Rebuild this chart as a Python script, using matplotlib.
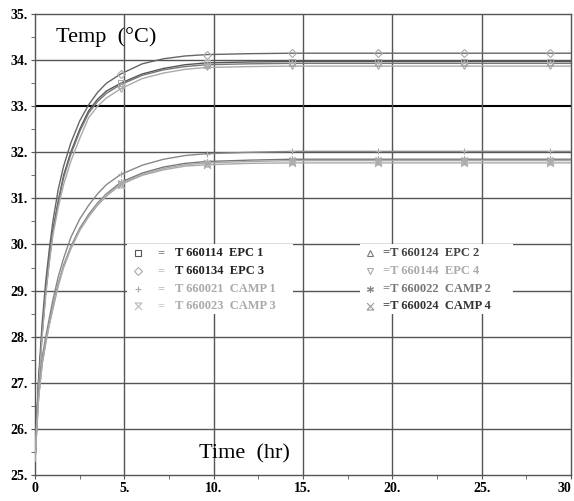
import numpy as np
import matplotlib
matplotlib.use('Agg')
import matplotlib.pyplot as plt
from matplotlib.path import Path

plt.rcParams['font.family'] = 'Liberation Serif'

# time axis (hr) of read-off points
t = [0, 0.1, 0.2, 0.4, 0.6, 0.8, 1.0, 1.3, 1.6, 2.0, 2.5, 3.0, 3.5, 4.0, 4.8,
     6.0, 7.2, 8.4, 9.6, 12.0, 14.4, 19.2, 24.0, 28.8, 30.0]

epc1 = [25.3, 26.2, 27.0, 28.1, 29.0, 29.7, 30.3, 30.95, 31.5, 32.0, 32.5, 32.9,
        33.15, 33.33, 33.5, 33.7, 33.82, 33.9, 33.94, 33.96, 33.97, 33.97, 33.97, 33.97, 33.97]
epc2 = [25.3, 26.2, 27.0, 28.05, 28.95, 29.65, 30.25, 30.9, 31.45, 31.95, 32.45, 32.85,
        33.1, 33.28, 33.47, 33.67, 33.79, 33.86, 33.9, 33.92, 33.93, 33.93, 33.93, 33.93, 33.93]
epc3 = [25.3, 26.3, 27.1, 28.3, 29.2, 29.9, 30.5, 31.2, 31.7, 32.2, 32.68, 33.03,
        33.3, 33.5, 33.7, 33.92, 34.03, 34.09, 34.12, 34.14, 34.15, 34.15, 34.15, 34.15, 34.15]
epc4 = [25.3, 26.15, 26.9, 28.0, 28.9, 29.6, 30.2, 30.8, 31.3, 31.8, 32.3, 32.75,
        33.0, 33.18, 33.38, 33.6, 33.72, 33.8, 33.84, 33.86, 33.87, 33.87, 33.87, 33.87, 33.87]
camp1 = [25.3, 26.1, 26.8, 27.55, 28.0, 28.4, 28.8, 29.3, 29.7, 30.15, 30.55, 30.85,
         31.1, 31.3, 31.52, 31.72, 31.85, 31.93, 31.97, 32.0, 32.02, 32.02, 32.02, 32.02, 32.02]
camp2 = [25.3, 26.05, 26.7, 27.45, 27.9, 28.3, 28.65, 29.15, 29.55, 29.95, 30.35, 30.65,
         30.9, 31.1, 31.35, 31.55, 31.68, 31.76, 31.8, 31.83, 31.85, 31.85, 31.85, 31.85, 31.85]
camp3 = [25.3, 26.0, 26.65, 27.4, 27.85, 28.25, 28.6, 29.1, 29.5, 29.9, 30.3, 30.6,
         30.85, 31.05, 31.3, 31.5, 31.62, 31.7, 31.73, 31.76, 31.77, 31.77, 31.77, 31.77, 31.77]
camp4 = [25.3, 26.02, 26.68, 27.42, 27.88, 28.28, 28.62, 29.12, 29.52, 29.92, 30.32, 30.62,
         30.88, 31.08, 31.32, 31.52, 31.65, 31.73, 31.77, 31.8, 31.82, 31.82, 31.82, 31.82, 31.82]

# marker times
t_mark = [4.8, 9.6, 14.4, 19.2, 24.0, 28.8]

labels = ['T 660114  EPC 1', 'T 660124  EPC 2', 'T 660134  EPC 3', 'T 660144  EPC 4',
          'T 660021  CAMP 1', 'T 660022  CAMP 2', 'T 660023  CAMP 3', 'T 660024  CAMP 4']

# custom markers: X with bar on top / bottom
x_top = Path([(-1, 1), (1, -1), (1, 1), (-1, -1), (-1, 1), (1, 1)],
             [Path.MOVETO, Path.LINETO, Path.MOVETO, Path.LINETO, Path.MOVETO, Path.LINETO])
x_bot = Path([(-1, 1), (1, -1), (1, 1), (-1, -1), (-1, -1), (1, -1)],
             [Path.MOVETO, Path.LINETO, Path.MOVETO, Path.LINETO, Path.MOVETO, Path.LINETO])

# (values, marker, line colour, text colour, legend symbol colour)
series = [
    (epc1, 's', '#555555', '#222222', '#555555'),
    (epc2, '^', '#777777', '#444444', '#777777'),
    (epc3, 'D', '#666666', '#222222', '#aaaaaa'),
    (epc4, 'v', '#aaaaaa', '#aaaaaa', '#aaaaaa'),
    (camp1, '+', '#888888', '#aaaaaa', '#aaaaaa'),
    (camp2, (6, 2, 0), '#777777', '#777777', '#888888'),
    (camp3, x_top, '#aaaaaa', '#aaaaaa', '#bbbbbb'),
    (camp4, x_bot, '#aaaaaa', '#333333', '#999999'),
]

fig = plt.figure(figsize=(5.74, 5.01), dpi=100)
ax = fig.add_axes([0.061, 0.052, 0.934, 0.920])

ax.set_xlim(0, 30)
ax.set_ylim(25, 35)

for y in range(26, 35):
    ax.axhline(y, color='black' if y == 33 else '#555555',
               lw=1.5 if y == 33 else 1.0, zorder=1)
for x in [5, 10, 15, 20, 25]:
    ax.axvline(x, color='#555555', lw=1.0, zorder=1)

for vals, mk, lc, tc, sc in series:
    ax.plot(t, vals, color=lc, lw=1.0, zorder=3)
    mv = np.interp(t_mark, t, vals)
    ms = 4 if mk == 'D' else 5
    ax.plot(t_mark, mv, ls='none', marker=mk, ms=ms, mfc='none',
            mec='#aaaaaa', mew=0.8, zorder=4)

# legend boxes (white, no border)
for x0, x1 in [(0.172, 0.481), (0.606, 0.892)]:
    ax.add_patch(plt.Rectangle((x0, 0.349), x1 - x0, 0.152, transform=ax.transAxes,
                               facecolor='white', edgecolor='none', zorder=5))

rows = [0.482, 0.443, 0.403, 0.367]
cols = [(0.192, 0.228, 0.261), (0.625, None, 0.649)]
for i, (vals, mk, lc, tc, sc) in enumerate(series):
    c = i % 2
    r = i // 2
    sx, ex, tx = cols[c]
    ms = 4 if mk == 'D' else 5
    ax.plot([sx], [rows[r]], transform=ax.transAxes, marker=mk, ms=ms, mfc='none',
            mec=sc, mew=0.8, ls='none', zorder=6, clip_on=False)
    if ex is not None:
        ax.text(ex, rows[r], '=', transform=ax.transAxes, ha='left', va='center',
                fontsize=9, color=sc, zorder=6)
        txt = labels[i]
    else:
        txt = '=' + labels[i]
    ax.text(tx, rows[r], txt, transform=ax.transAxes, ha='left', va='center',
            fontsize=9, fontweight='bold', color=tc, zorder=6)

ax.text(0.04, 0.95, 'Temp  (°C)', transform=ax.transAxes, fontsize=16,
        ha='left', va='center')
ax.text(0.305, 0.045, 'Time  (hr)', transform=ax.transAxes, fontsize=16,
        ha='left', va='center')

ax.set_xticks([0, 5, 10, 15, 20, 25, 30])
ax.set_xticklabels(['0', '5.', '10.', '15.', '20.', '25.', '30'])
ax.set_yticks(range(25, 36))
ax.set_yticklabels([f'{y}.' for y in range(25, 36)])
ax.set_xticks(np.arange(2.5, 30, 5), minor=True)
ax.set_yticks(np.arange(25.5, 35, 1), minor=True)
for lab in ax.get_xticklabels() + ax.get_yticklabels():
    lab.set_fontweight('bold')
    lab.set_fontsize(10)
ax.get_xticklabels()[-1].set_ha('right')
ax.tick_params(which='both', direction='out', length=3, color='#555555', pad=2)

for sp in ax.spines.values():
    sp.set_color('#555555')
    sp.set_linewidth(1.0)

fig.savefig('out.png', dpi=100)
